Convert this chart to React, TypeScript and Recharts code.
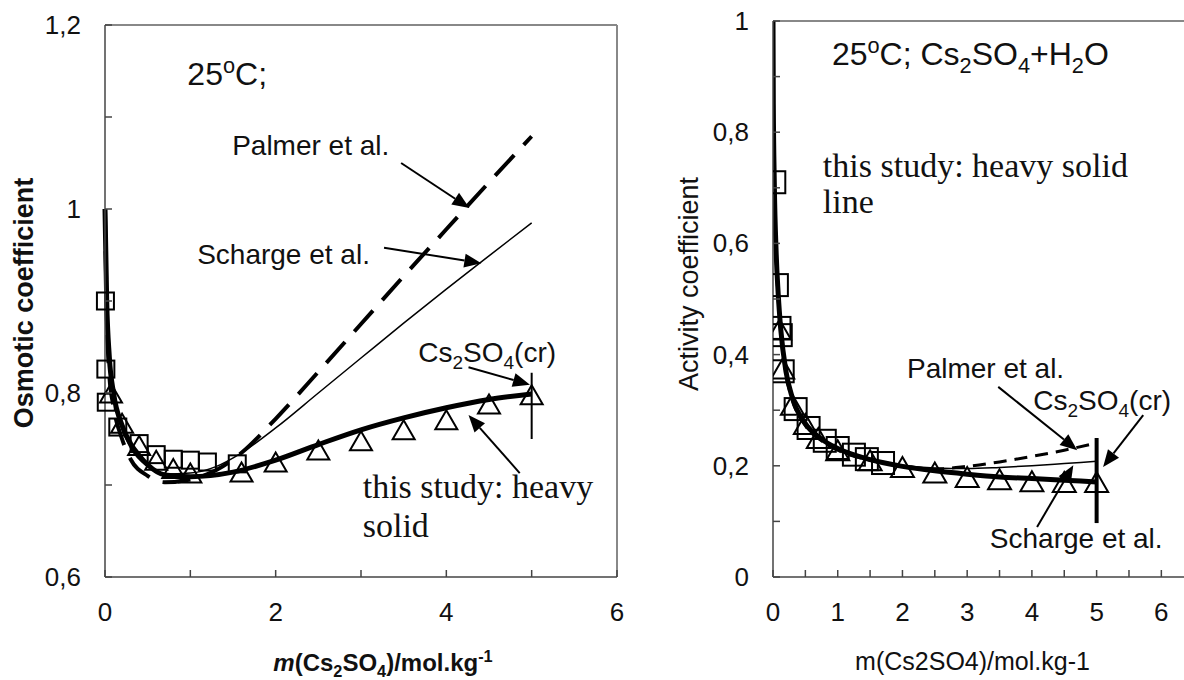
import {
  ComposedChart,
  Line,
  Scatter,
  XAxis,
  YAxis,
  ReferenceLine,
  ReferenceDot,
} from "recharts";

const SANS = "'Liberation Sans', Arial, sans-serif";
const SERIF = "'Liberation Serif', 'Times New Roman', serif";

// ---- left panel: osmotic coefficient ----
const osmStudy = [
  { m: 0, v: 1.0 }, { m: 0.02, v: 0.9 }, { m: 0.05, v: 0.84 }, { m: 0.1, v: 0.8 },
  { m: 0.2, v: 0.765 }, { m: 0.3, v: 0.745 }, { m: 0.4, v: 0.732 }, { m: 0.5, v: 0.722 },
  { m: 0.7, v: 0.711 }, { m: 1.0, v: 0.709 }, { m: 1.5, v: 0.714 }, { m: 2, v: 0.727 },
  { m: 2.5, v: 0.744 }, { m: 3, v: 0.76 }, { m: 3.5, v: 0.773 }, { m: 4, v: 0.784 },
  { m: 4.5, v: 0.793 }, { m: 5, v: 0.799 },
];
const osmPalmer = [
  { m: 0, v: 1.0 }, { m: 0.02, v: 0.89 }, { m: 0.05, v: 0.82 }, { m: 0.1, v: 0.785 },
  { m: 0.2, v: 0.75 }, { m: 0.3, v: 0.728 }, { m: 0.5, v: 0.71 }, { m: 0.7, v: 0.703 },
  { m: 1.0, v: 0.706 }, { m: 1.3, v: 0.716 }, { m: 1.6, v: 0.735 }, { m: 2, v: 0.772 },
  { m: 2.5, v: 0.823 }, { m: 3, v: 0.875 }, { m: 3.5, v: 0.927 }, { m: 4, v: 0.978 },
  { m: 4.5, v: 1.029 }, { m: 5, v: 1.079 },
];
const osmScharge = [
  { m: 0, v: 1.0 }, { m: 0.02, v: 0.9 }, { m: 0.05, v: 0.835 }, { m: 0.1, v: 0.795 },
  { m: 0.2, v: 0.76 }, { m: 0.3, v: 0.74 }, { m: 0.5, v: 0.72 }, { m: 0.7, v: 0.712 },
  { m: 1.0, v: 0.713 }, { m: 1.3, v: 0.72 }, { m: 1.6, v: 0.735 }, { m: 2, v: 0.762 },
  { m: 2.5, v: 0.8 }, { m: 3, v: 0.838 }, { m: 3.5, v: 0.876 }, { m: 4, v: 0.913 },
  { m: 4.5, v: 0.949 }, { m: 5, v: 0.985 },
];
const osmSquares = [
  { m: 0.005, v: 0.9 }, { m: 0.01, v: 0.826 }, { m: 0.015, v: 0.79 }, { m: 0.15, v: 0.763 },
  { m: 0.4, v: 0.745 }, { m: 0.6, v: 0.733 }, { m: 0.8, v: 0.728 }, { m: 1.0, v: 0.727 },
  { m: 1.2, v: 0.725 }, { m: 1.55, v: 0.723 },
];
const osmTriangles = [
  { m: 0.07, v: 0.8 }, { m: 0.2, v: 0.767 }, { m: 0.4, v: 0.743 }, { m: 0.6, v: 0.727 },
  { m: 0.8, v: 0.718 }, { m: 1.0, v: 0.713 }, { m: 1.6, v: 0.714 }, { m: 2.0, v: 0.725 },
  { m: 2.5, v: 0.738 }, { m: 3.0, v: 0.748 }, { m: 3.5, v: 0.76 }, { m: 4.0, v: 0.771 },
  { m: 4.5, v: 0.788 }, { m: 5.0, v: 0.798 },
];
const osmSolubility = [{ m: 5, v: 0.75 }, { m: 5, v: 0.822 }];
const osmXTicks = [0, 1, 2, 3, 4, 5, 6];
const osmYTicks = [0.6, 0.7, 0.8, 0.9, 1.0, 1.1, 1.2];

// ---- right panel: activity coefficient ----
const actStudy = [
  { m: 0, v: 1.0 }, { m: 0.005, v: 0.85 }, { m: 0.02, v: 0.71 }, { m: 0.05, v: 0.58 },
  { m: 0.08, v: 0.51 }, { m: 0.12, v: 0.445 }, { m: 0.2, v: 0.37 }, { m: 0.3, v: 0.322 },
  { m: 0.5, v: 0.276 }, { m: 0.75, v: 0.248 }, { m: 1, v: 0.231 }, { m: 1.5, v: 0.211 },
  { m: 2, v: 0.199 }, { m: 2.5, v: 0.191 }, { m: 3, v: 0.185 }, { m: 3.5, v: 0.18 },
  { m: 4, v: 0.177 }, { m: 4.5, v: 0.174 }, { m: 5, v: 0.171 },
];
const actPalmer = [
  { m: 0, v: 1.0 }, { m: 0.005, v: 0.84 }, { m: 0.02, v: 0.7 }, { m: 0.05, v: 0.57 },
  { m: 0.08, v: 0.5 }, { m: 0.12, v: 0.44 }, { m: 0.2, v: 0.365 }, { m: 0.3, v: 0.318 },
  { m: 0.5, v: 0.272 }, { m: 0.75, v: 0.245 }, { m: 1, v: 0.228 }, { m: 1.5, v: 0.21 },
  { m: 2, v: 0.2 }, { m: 2.5, v: 0.194 }, { m: 3, v: 0.199 }, { m: 3.5, v: 0.207 },
  { m: 4, v: 0.217 }, { m: 4.5, v: 0.228 }, { m: 5, v: 0.241 },
];
const actScharge = [
  { m: 0, v: 1.0 }, { m: 0.005, v: 0.86 }, { m: 0.02, v: 0.72 }, { m: 0.05, v: 0.59 },
  { m: 0.08, v: 0.52 }, { m: 0.12, v: 0.45 }, { m: 0.2, v: 0.375 }, { m: 0.3, v: 0.326 },
  { m: 0.5, v: 0.28 }, { m: 0.75, v: 0.25 }, { m: 1, v: 0.233 }, { m: 1.5, v: 0.213 },
  { m: 2, v: 0.201 }, { m: 2.5, v: 0.196 }, { m: 3, v: 0.195 }, { m: 3.5, v: 0.197 },
  { m: 4, v: 0.2 }, { m: 4.5, v: 0.204 }, { m: 5, v: 0.208 },
];
const actSquares = [
  { m: 0.02, v: 0.71 }, { m: 0.06, v: 0.525 }, { m: 0.1, v: 0.448 }, { m: 0.12, v: 0.435 },
  { m: 0.15, v: 0.37 }, { m: 0.35, v: 0.302 }, { m: 0.55, v: 0.268 }, { m: 0.8, v: 0.245 },
  { m: 1.0, v: 0.232 }, { m: 1.25, v: 0.22 }, { m: 1.45, v: 0.212 }, { m: 1.7, v: 0.205 },
];
const actTriangles = [
  { m: 0.1, v: 0.445 }, { m: 0.15, v: 0.375 }, { m: 0.3, v: 0.31 }, { m: 0.5, v: 0.275 },
  { m: 0.7, v: 0.25 }, { m: 1.0, v: 0.228 }, { m: 1.5, v: 0.21 }, { m: 2, v: 0.198 },
  { m: 2.5, v: 0.188 }, { m: 3, v: 0.18 }, { m: 3.5, v: 0.176 }, { m: 4, v: 0.172 },
  { m: 4.5, v: 0.171 }, { m: 5, v: 0.171 },
];
const actSolubility = [{ m: 5, v: 0.097 }, { m: 5, v: 0.25 }];
const actXTicks = [0, 0.5, 1, 1.5, 2, 2.5, 3, 3.5, 4, 4.5, 5, 5.5, 6];
const actYTicks = [0, 0.1, 0.2, 0.3, 0.4, 0.5, 0.6, 0.7, 0.8, 0.9, 1.0];

const fmt = (v: number) => String(Number(v.toFixed(2))).replace(".", ",");
const isMult = (v: number, step: number) => Math.abs(v / step - Math.round(v / step)) < 1e-6;

const makeYTick = (step: number) => (p: any) => {
  const v = p.payload.value;
  return (
    <g>
      <line x1={p.x} x2={p.x + 7} y1={p.y} y2={p.y} stroke="#444" strokeWidth={1.5} />
      {isMult(v, step) && (
        <text x={p.x - 24} y={p.y} textAnchor="end" dominantBaseline="central"
          fontFamily={SANS} fontSize={26} fill="#111">{fmt(v)}</text>
      )}
    </g>
  );
};
const makeXTick = (step: number) => (p: any) => {
  const v = p.payload.value;
  return (
    <g>
      <line x1={p.x} x2={p.x} y1={p.y} y2={p.y - 7} stroke="#444" strokeWidth={1.5} />
      {isMult(v, step) && (
        <text x={p.x} y={p.y + 35} textAnchor="middle" dominantBaseline="central"
          fontFamily={SANS} fontSize={26} fill="#111">{fmt(v)}</text>
      )}
    </g>
  );
};

const squareShape = (s: number) => (p: any) => (
  <rect x={p.cx - s / 2} y={p.cy - s / 2} width={s} height={s} fill="none" stroke="#000" strokeWidth={2} />
);
const triShape = (w: number, h: number) => (p: any) => (
  <polygon
    points={`${p.cx},${p.cy - h / 2} ${p.cx + w / 2},${p.cy + h / 2} ${p.cx - w / 2},${p.cy + h / 2}`}
    fill="none" stroke="#000" strokeWidth={2} />
);

const arrowShape = (p: any) => {
  const { x1, y1, x2, y2 } = p;
  const a = Math.atan2(y2 - y1, x2 - x1);
  const L = 17, W = 7;
  const c = Math.cos(a), s = Math.sin(a);
  const bx = x2 - L * c, by = y2 - L * s;
  return (
    <g>
      <line x1={x1} y1={y1} x2={bx} y2={by} stroke="#000" strokeWidth={2} />
      <polygon points={`${x2},${y2} ${bx + W * s},${by - W * c} ${bx - W * s},${by + W * c}`} fill="#000" />
    </g>
  );
};

type Seg = { t: string; sub?: boolean; sup?: boolean; italic?: boolean };
const richText = (segs: Seg[], size: number, opts: any = {}) => (p: any) => {
  let shift = 0;
  return (
    <text x={p.cx ?? p.x} y={p.cy ?? p.y} fontFamily={opts.family ?? SANS} fontSize={size}
      fontWeight={opts.bold ? "bold" : "normal"} fill="#111" textAnchor={opts.anchor ?? "start"}>
      {segs.map((s, i) => {
        const target = s.sub ? size * 0.25 : s.sup ? -size * 0.38 : 0;
        const dy = target - shift;
        shift = target;
        return (
          <tspan key={i} dy={dy} fontSize={s.sub || s.sup ? size * 0.68 : size}
            fontStyle={s.italic ? "italic" : "normal"}>{s.t}</tspan>
        );
      })}
    </text>
  );
};

const csCr: Seg[] = [{ t: "Cs" }, { t: "2", sub: true }, { t: "SO" }, { t: "4", sub: true }, { t: "(cr)" }];

function Txt({ x, y, shape }: { x: number; y: number; shape: any }) {
  return <ReferenceDot x={x} y={y} r={0} ifOverflow="visible" shape={shape} />;
}

function Arrow({ from, to }: { from: number[]; to: number[] }) {
  return (
    <ReferenceLine
      ifOverflow="visible"
      segment={[{ x: from[0], y: from[1] }, { x: to[0], y: to[1] }]}
      shape={arrowShape}
    />
  );
}

function OsmoticChart() {
  return (
    <ComposedChart width={640} height={680} margin={{ top: 25, right: 23, bottom: 33, left: 45 }}>
      <XAxis dataKey="m" type="number" domain={[0, 6]} ticks={osmXTicks} interval={0}
        tickSize={0} tickMargin={0} tick={makeXTick(2)} stroke="#444" strokeWidth={1.5}
        height={70}
        label={{
          content: (p: any) =>
            richText(
              [{ t: "m", italic: true }, { t: "(Cs" }, { t: "2", sub: true }, { t: "SO" },
                { t: "4", sub: true }, { t: ")/mol.kg" }, { t: "-1", sup: true }],
              24, { bold: true, anchor: "middle" })({ x: p.viewBox.x + p.viewBox.width / 2 + 22, y: p.viewBox.y + 94 }),
        }} />
      <YAxis dataKey="v" type="number" domain={[0.6, 1.2]} ticks={osmYTicks} interval={0}
        tickSize={0} tickMargin={0} tick={makeYTick(0.2)} stroke="#444" strokeWidth={1.5}
        width={60}
        label={{
          content: (p: any) => {
            const cx = p.viewBox.x - 21, cy = p.viewBox.y + p.viewBox.height / 2 + 2;
            return (
              <text x={cx} y={cy} transform={`rotate(-90 ${cx} ${cy})`} textAnchor="middle"
                dominantBaseline="central" fontFamily={SANS} fontWeight="bold" fontSize={27} fill="#111">
                Osmotic coefficient
              </text>
            );
          },
        }} />
      <ReferenceLine y={1.2} stroke="#888" strokeWidth={2} />
      <ReferenceLine x={6} stroke="#888" strokeWidth={2} />

      <Line data={osmScharge} dataKey="v" type="monotone" stroke="#000" strokeWidth={1.5} dot={false} activeDot={false} isAnimationActive={false} />
      <Line data={osmPalmer} dataKey="v" type="monotone" stroke="#000" strokeWidth={4} strokeDasharray="28 14" dot={false} activeDot={false} isAnimationActive={false} />
      <Line data={osmStudy} dataKey="v" type="monotone" stroke="#000" strokeWidth={5} dot={false} activeDot={false} isAnimationActive={false} />
      <Line data={osmSolubility} dataKey="v" type="linear" stroke="#000" strokeWidth={2} dot={false} activeDot={false} isAnimationActive={false} />
      <Scatter data={osmSquares} shape={squareShape(17)} isAnimationActive={false} />
      <Scatter data={osmTriangles} shape={triShape(22, 19)} isAnimationActive={false} />

      <Txt x={0.965} y={1.135} shape={richText([{ t: "25" }, { t: "o", sup: true }, { t: "C;" }], 32)} />
      <Txt x={1.49} y={1.059} shape={richText([{ t: "Palmer et al." }], 28)} />
      <Txt x={1.08} y={0.94} shape={richText([{ t: "Scharge et al." }], 28)} />
      <Txt x={3.67} y={0.834} shape={richText(csCr, 28)} />
      <Txt x={3.02} y={0.686} shape={richText([{ t: "this study: heavy" }], 34, { family: SERIF })} />
      <Txt x={3.02} y={0.643} shape={richText([{ t: "solid" }], 34, { family: SERIF })} />
      <Arrow from={[3.47, 1.05]} to={[4.27, 1.001]} />
      <Arrow from={[3.27, 0.958]} to={[4.41, 0.941]} />
      <Arrow from={[4.26, 0.828]} to={[4.98, 0.809]} />
      <Arrow from={[4.86, 0.713]} to={[4.26, 0.776]} />
    </ComposedChart>
  );
}

function ActivityChart() {
  return (
    <ComposedChart width={544} height={680} margin={{ top: 21, right: 0, bottom: 33, left: 73 }}>
      <XAxis dataKey="m" type="number" domain={[0, 6.35]} allowDataOverflow ticks={actXTicks} interval={0}
        tickSize={0} tickMargin={0} tick={makeXTick(1)} stroke="#444" strokeWidth={1.5}
        height={70}
        label={{
          content: (p: any) =>
            richText([{ t: "m(Cs2SO4)/mol.kg-1" }], 25, { anchor: "middle" })({
              x: p.viewBox.x + p.viewBox.width / 2 - 6,
              y: p.viewBox.y + 93,
            }),
        }} />
      <YAxis dataKey="v" type="number" domain={[0, 1]} ticks={actYTicks} interval={0}
        tickSize={0} tickMargin={0} tick={makeYTick(0.2)} stroke="#444" strokeWidth={1.5}
        width={60}
        label={{
          content: (p: any) => {
            const cx = p.viewBox.x - 24, cy = p.viewBox.y + 263;
            return (
              <text x={cx} y={cy} transform={`rotate(-90 ${cx} ${cy})`} textAnchor="middle"
                dominantBaseline="central" fontFamily={SANS} fontSize={27} fill="#111">
                Activity coefficient
              </text>
            );
          },
        }} />
      <ReferenceLine y={1} stroke="#888" strokeWidth={2} />

      <Line data={actScharge} dataKey="v" type="monotone" stroke="#000" strokeWidth={1.5} dot={false} activeDot={false} isAnimationActive={false} />
      <Line data={actPalmer} dataKey="v" type="monotone" stroke="#000" strokeWidth={3} strokeDasharray="13 8" dot={false} activeDot={false} isAnimationActive={false} />
      <Line data={actStudy} dataKey="v" type="monotone" stroke="#000" strokeWidth={5} dot={false} activeDot={false} isAnimationActive={false} />
      <Line data={actSolubility} dataKey="v" type="linear" stroke="#000" strokeWidth={4} dot={false} activeDot={false} isAnimationActive={false} />
      <Scatter data={actSquares} shape={squareShape(22)} isAnimationActive={false} />
      <Scatter data={actTriangles} shape={triShape(23, 20)} isAnimationActive={false} />

      <Txt x={0.91} y={0.921} shape={richText(
        [{ t: "25" }, { t: "o", sup: true }, { t: "C; Cs" }, { t: "2", sub: true }, { t: "SO" },
          { t: "4", sub: true }, { t: "+H" }, { t: "2", sub: true }, { t: "O" }], 32)} />
      <Txt x={0.77} y={0.719} shape={richText([{ t: "this study: heavy solid" }], 34, { family: SERIF })} />
      <Txt x={0.77} y={0.655} shape={richText([{ t: "line" }], 34, { family: SERIF })} />
      <Txt x={2.07} y={0.358} shape={richText([{ t: "Palmer et al." }], 28)} />
      <Txt x={4.02} y={0.3} shape={richText(csCr, 28)} />
      <Txt x={3.35} y={0.052} shape={richText([{ t: "Scharge et al." }], 28)} />
      <Arrow from={[3.48, 0.342]} to={[4.7, 0.228]} />
      <Arrow from={[5.72, 0.291]} to={[5.1, 0.198]} />
      <Arrow from={[4.08, 0.09]} to={[4.64, 0.201]} />
    </ComposedChart>
  );
}

export default function App() {
  return (
    <div style={{ position: "absolute", left: 0, top: 0, width: 1184, height: 680, background: "#fff" }}>
      <div style={{ position: "absolute", left: 0, top: 0 }}>
        <OsmoticChart />
      </div>
      <div style={{ position: "absolute", left: 640, top: 0 }}>
        <ActivityChart />
      </div>
    </div>
  );
}
